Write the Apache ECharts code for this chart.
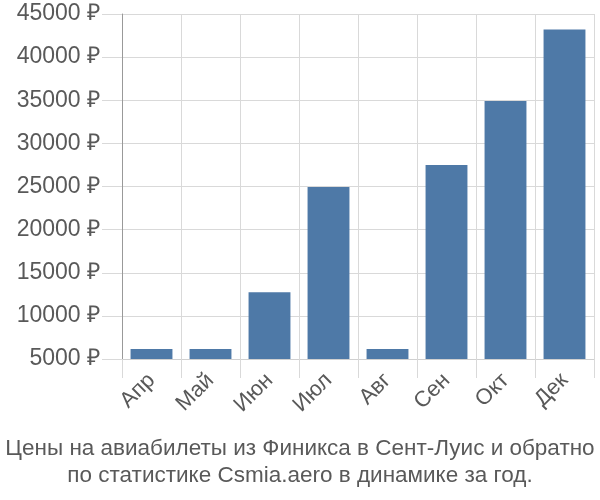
<!DOCTYPE html>
<html><head><meta charset="utf-8">
<script src="https://cdn.jsdelivr.net/npm/echarts@6/dist/echarts.min.js"></script>
<style>html,body{margin:0;padding:0;background:#fff}#c{width:600px;height:500px}</style>
</head><body><div id="c"></div>
<script>
var categories = ['Апр','Май','Июн','Июл','Авг','Сен','Окт','Дек'];
var prices = [6150, 6150, 12750, 24950, 6150, 27500, 34900, 43200];
var titleLines = ['Цены на авиабилеты из Финикса в Сент-Луис и обратно', 'по статистике Csmia.aero в динамике за год.'];
var yMin = 5000, yMax = 45000, yStep = 5000;

var chart = echarts.init(document.getElementById('c'));
var font = '"Liberation Sans", Arial, sans-serif';
chart.setOption({
  animation: false,
  title: {
    text: titleLines.join('\n'),
    left: 'center', top: 430,
    textStyle: {fontFamily: font, fontSize: 22.5, fontWeight: 'normal', color: '#595959', lineHeight: 27}
  },
  grid: {left: 122, right: 6, top: 14, bottom: 141},
  xAxis: {
    type: 'category', data: categories,
    axisLine: {lineStyle: {color: '#d0d0d0'}},
    axisTick: {show: true, length: 19, lineStyle: {color: '#d9d9d9'}},
    splitLine: {show: true, lineStyle: {color: '#d9d9d9'}},
    axisLabel: {rotate: 45, margin: 18, fontFamily: font, fontSize: 22, color: '#595959'}
  },
  yAxis: {
    type: 'value', min: yMin, max: yMax, interval: yStep,
    axisLine: {show: true, lineStyle: {color: '#999'}},
    axisTick: {show: true, length: 20, lineStyle: {color: '#d9d9d9'}},
    splitLine: {show: true, lineStyle: {color: '#d9d9d9'}},
    axisLabel: {margin: 22, fontFamily: font, fontSize: 23, color: '#595959', formatter: function(v){return v + ' ₽';}}
  },
  series: [{
    type: 'bar', data: prices, barWidth: '71%',
    itemStyle: {color: '#4e79a7'}
  }]
});
</script></body></html>
